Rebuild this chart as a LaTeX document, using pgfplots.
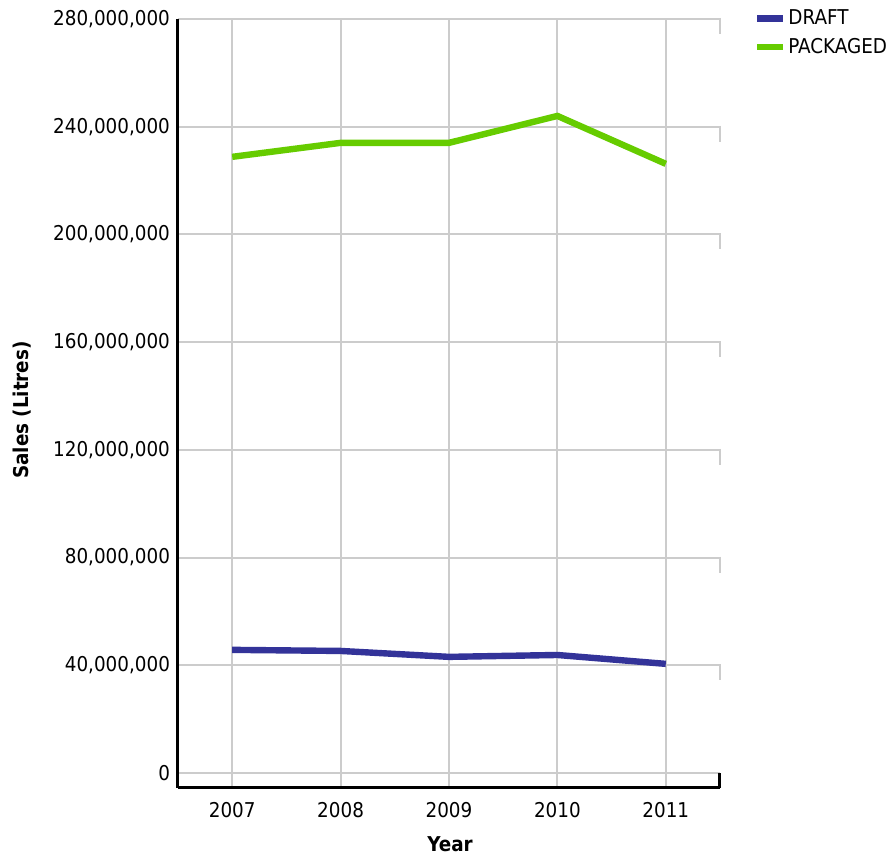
\documentclass[border=0pt]{standalone}
\usepackage{fontspec}
\setmainfont{DejaVuSansCondensed}[Extension=.ttf, BoldFont=DejaVuSansCondensed-Bold]
\usepackage{pgfplots}
\pgfplotsset{compat=1.18}
\definecolor{draftblue}{RGB}{51,51,153}
\definecolor{packgreen}{RGB}{102,204,0}
\definecolor{gridgray}{RGB}{204,204,204}

\begin{document}
\begin{tikzpicture}
\useasboundingbox (-133.5pt,-50.25pt) rectangle (535.5pt,591pt);
\begin{axis}[
    at={(0pt,0pt)}, anchor=south west,
    scale only axis,
    width=406.5pt, height=576.75pt,
    xmin=2006.5, xmax=2011.5,
    ymin=-5600000, ymax=280000000,
    xtick={2007,2008,2009,2010,2011},
    xticklabels={2007,2008,2009,2010,2011},
    ytick={0,40000000,80000000,120000000,160000000,200000000,240000000,280000000},
    scaled y ticks=false,
    yticklabel style={/pgf/number format/fixed, /pgf/number format/precision=0,
        /pgf/number format/1000 sep={,}, xshift=-2.5pt},
    /pgf/number format/assume math mode=true,
    tick label style={font=\fontsize{15.3}{18}\selectfont},
    xticklabel style={yshift=-7pt},
    major tick length=0pt,
    grid=major,
    major grid style={gridgray, line width=1.5pt},
    axis x line*=bottom, axis y line*=left,
    axis line style={black, line width=2.25pt, -},
    xlabel={\textbf{Year}},
    ylabel={\textbf{Sales (Litres)}},
    label style={font=\fontsize{15.3}{18}\selectfont},
    xlabel style={at={(axis description cs:0.502,-0.0725)}, anchor=center},
    ylabel style={at={(axis description cs:-0.2878,0.4915)}, anchor=center},
    legend style={draw=none, fill=none, at={(axis description cs:1.055,1.019)}, anchor=north west,
        font=\fontsize{15.3}{18}\selectfont, cells={anchor=west}, row sep=4.5pt},
    legend image code/.code={\draw[#1] (0pt,0pt) -- (19pt,0pt);},
    clip=false,
]
\addplot[draftblue, line width=4.8pt] coordinates {
    (2007, 45700000)
    (2008, 45300000)
    (2009, 43100000)
    (2010, 43800000)
    (2011, 40500000)
};
\addplot[packgreen, line width=4.8pt] coordinates {
    (2007, 228800000)
    (2008, 234000000)
    (2009, 234000000)
    (2010, 244000000)
    (2011, 226200000)
};
\legend{DRAFT, PACKAGED}
\pgfplotsinvokeforeach{0.1597,0.2997,0.4398,0.5798,0.7199,0.8599,1.0}{
    \draw[gridgray, line width=1.5pt] ([yshift=0.75pt]axis description cs:1,#1) -- ([yshift=-11.25pt]axis description cs:1,#1);
}
\draw[black, line width=2.25pt] (axis description cs:1,0) -- ([yshift=11pt]axis description cs:1,0);
\end{axis}
\end{tikzpicture}
\end{document}
